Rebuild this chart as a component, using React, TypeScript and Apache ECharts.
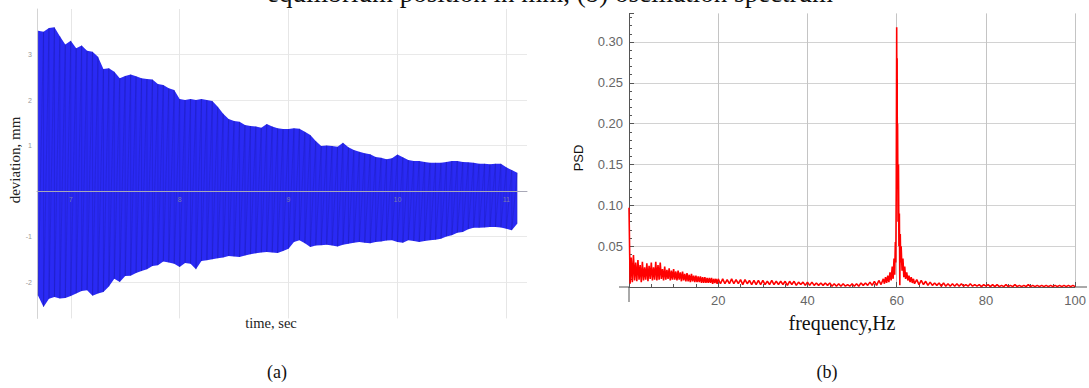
import React, { useEffect, useRef } from 'react';
import * as echarts from 'echarts';

// ---- (a) oscillation: envelope ----
const timeSec = [
  6.70, 6.75, 6.80, 6.85, 6.90, 6.95, 7.00, 7.05, 7.10, 7.15,
  7.20, 7.25, 7.30, 7.35, 7.40, 7.45, 7.50, 7.55, 7.60, 7.65,
  7.70, 7.75, 7.80, 7.85, 7.90, 7.95, 8.00, 8.05, 8.10, 8.15,
  8.20, 8.25, 8.30, 8.35, 8.40, 8.45, 8.50, 8.55, 8.60, 8.65,
  8.70, 8.75, 8.80, 8.85, 8.90, 8.95, 9.00, 9.05, 9.10, 9.15,
  9.20, 9.25, 9.30, 9.35, 9.40, 9.45, 9.50, 9.55, 9.60, 9.65,
  9.70, 9.75, 9.80, 9.85, 9.90, 9.95, 10.00, 10.05, 10.10, 10.15,
  10.20, 10.25, 10.30, 10.35, 10.40, 10.45, 10.50, 10.55, 10.60, 10.65,
  10.70, 10.75, 10.80, 10.85, 10.90, 10.95, 11.00, 11.05, 11.10,
];
const upperMm = [
  3.52, 3.50, 3.58, 3.60, 3.40, 3.22, 3.30, 3.14, 3.20, 3.08,
  3.06, 2.95, 2.68, 2.70, 2.62, 2.48, 2.53, 2.56, 2.52, 2.48,
  2.46, 2.45, 2.35, 2.33, 2.26, 2.22, 2.02, 2.00, 2.02, 2.00,
  2.02, 2.00, 1.98, 1.85, 1.70, 1.58, 1.54, 1.52, 1.45, 1.43,
  1.42, 1.39, 1.47, 1.42, 1.38, 1.36, 1.36, 1.38, 1.37, 1.30,
  1.23, 1.10, 0.99, 1.00, 0.99, 0.97, 1.06, 0.96, 0.90, 0.86,
  0.83, 0.81, 0.75, 0.73, 0.70, 0.72, 0.80, 0.74, 0.68, 0.66,
  0.66, 0.64, 0.62, 0.62, 0.62, 0.64, 0.66, 0.66, 0.64, 0.63,
  0.62, 0.60, 0.60, 0.59, 0.60, 0.60, 0.52, 0.46, 0.40,
];
const lowerMm = [
  -2.30, -2.55, -2.37, -2.33, -2.36, -2.35, -2.31, -2.25, -2.20, -2.18,
  -2.30, -2.25, -2.22, -2.10, -1.93, -2.00, -1.87, -1.86, -1.80, -1.76,
  -1.72, -1.65, -1.63, -1.55, -1.57, -1.60, -1.67, -1.58, -1.60, -1.72,
  -1.54, -1.52, -1.50, -1.48, -1.46, -1.43, -1.44, -1.45, -1.42, -1.39,
  -1.37, -1.35, -1.34, -1.35, -1.36, -1.32, -1.27, -1.12, -1.08, -1.15,
  -1.23, -1.20, -1.19, -1.18, -1.20, -1.22, -1.18, -1.16, -1.14, -1.12,
  -1.14, -1.15, -1.12, -1.11, -1.09, -1.08, -1.12, -1.14, -1.08, -1.10,
  -1.12, -1.10, -1.08, -1.07, -1.05, -1.00, -0.97, -0.92, -0.90, -0.84,
  -0.81, -0.81, -0.80, -0.79, -0.79, -0.80, -0.83, -0.86, -0.72,
];

// ---- (b) spectrum ----
const psdFreq = [
  0, 0.25, 0.5, 0.75, 1, 1.25, 1.5, 1.75, 2, 2.25,
  2.5, 2.75, 3, 3.25, 3.5, 3.75, 4, 4.25, 4.5, 4.75,
  5, 5.25, 5.5, 5.75, 6, 6.25, 6.5, 6.75, 7, 7.25,
  7.5, 7.75, 8, 8.25, 8.5, 8.75, 9, 9.25, 9.5, 9.75,
  10, 10.25, 10.5, 10.75, 11, 11.25, 11.5, 11.75, 12, 12.25,
  12.5, 12.75, 13, 13.25, 13.5, 13.75, 14, 14.25, 14.5, 14.75,
  15, 15.25, 15.5, 15.75, 16, 16.25, 16.5, 16.75, 17, 17.25,
  17.5, 17.75, 18, 18.25, 18.5, 18.75, 19, 19.25, 19.5, 19.75,
  20, 20.5, 21, 21.5, 22, 22.5, 23, 23.5, 24, 24.5,
  25, 25.5, 26, 26.5, 27, 27.5, 28, 28.5, 29, 29.5,
  30, 30.5, 31, 31.5, 32, 32.5, 33, 33.5, 34, 34.5,
  35, 35.5, 36, 36.5, 37, 37.5, 38, 38.5, 39, 39.5,
  40, 40.5, 41, 41.5, 42, 42.5, 43, 43.5, 44, 44.5,
  45, 45.5, 46, 46.5, 47, 47.5, 48, 48.5, 49, 49.5,
  50, 50.5, 51, 51.5, 52, 52.5, 53, 53.5, 54, 54.5,
  55, 55.5, 56, 56.5, 57, 57.25, 57.5, 57.75, 58, 58.25,
  58.5, 58.75, 59, 59.2, 59.4, 59.55, 59.7, 59.8, 59.9, 60,
  60.05, 60.1, 60.15, 60.2, 60.3, 60.4, 60.5, 60.6, 60.7, 60.8,
  60.9, 61, 61.2, 61.4, 61.6, 61.8, 62, 62.25, 62.5, 62.75,
  63, 63.25, 63.5, 63.75, 64, 64.5, 65, 65.5, 66, 66.5,
  67, 67.5, 68, 68.5, 69, 69.5, 70, 70.5, 71, 71.5,
  72, 72.5, 73, 73.5, 74, 74.5, 75, 75.5, 76, 76.5,
  77, 77.5, 78, 78.5, 79, 79.5, 80, 80.5, 81, 81.5,
  82, 82.5, 83, 83.5, 84, 84.5, 85, 85.5, 86, 86.5,
  87, 87.5, 88, 88.5, 89, 89.5, 90, 90.5, 91, 91.5,
  92, 92.5, 93, 93.5, 94, 94.5, 95, 95.5, 96, 96.5,
  97, 97.5, 98, 98.5, 99, 99.5, 100,
];
const psdValue = [
  0.097, 0.004, 0.036, 0.006, 0.039, 0.008, 0.030, 0.007, 0.033, 0.009,
  0.027, 0.006, 0.031, 0.008, 0.024, 0.009, 0.029, 0.007, 0.026, 0.010,
  0.030, 0.008, 0.024, 0.009, 0.031, 0.008, 0.027, 0.009, 0.030, 0.010,
  0.022, 0.008, 0.025, 0.009, 0.021, 0.010, 0.023, 0.008, 0.020, 0.009,
  0.022, 0.009, 0.019, 0.008, 0.020, 0.009, 0.018, 0.007, 0.019, 0.008,
  0.016, 0.007, 0.017, 0.007, 0.015, 0.006, 0.016, 0.007, 0.014, 0.006,
  0.014, 0.006, 0.013, 0.006, 0.013, 0.005, 0.012, 0.005, 0.012, 0.005,
  0.011, 0.005, 0.011, 0.005, 0.011, 0.004, 0.010, 0.005, 0.010, 0.004,
  0.010, 0.004, 0.010, 0.004, 0.009, 0.004, 0.010, 0.004, 0.009, 0.004,
  0.009, 0.003, 0.009, 0.004, 0.008, 0.003, 0.008, 0.003, 0.008, 0.003,
  0.008, 0.003, 0.007, 0.003, 0.008, 0.003, 0.007, 0.003, 0.007, 0.003,
  0.007, 0.002, 0.007, 0.003, 0.007, 0.002, 0.006, 0.003, 0.006, 0.002,
  0.006, 0.002, 0.006, 0.002, 0.005, 0.002, 0.005, 0.002, 0.005, 0.002,
  0.005, 0.001, 0.004, 0.001, 0.004, 0.001, 0.004, 0.001, 0.003, 0.001,
  0.004, 0.001, 0.004, 0.001, 0.005, 0.002, 0.005, 0.002, 0.006, 0.002,
  0.007, 0.002, 0.008, 0.003, 0.010, 0.004, 0.012, 0.005, 0.014, 0.006,
  0.018, 0.008, 0.025, 0.010, 0.035, 0.015, 0.055, 0.030, 0.120, 0.318,
  0.160, 0.280, 0.120, 0.200, 0.080, 0.150, 0.050, 0.090, 0.002, 0.065,
  0.030, 0.050, 0.020, 0.035, 0.012, 0.025, 0.010, 0.018, 0.008, 0.014,
  0.006, 0.012, 0.005, 0.010, 0.004, 0.009, 0.003, 0.008, 0.003, 0.007,
  0.002, 0.006, 0.002, 0.005, 0.002, 0.005, 0.001, 0.005, 0.001, 0.004,
  0.001, 0.004, 0.001, 0.004, 0.001, 0.004, 0.001, 0.003, 0.001, 0.004,
  0.001, 0.003, 0.001, 0.003, 0.0005, 0.003, 0.001, 0.003, 0.0005, 0.003,
  0.0005, 0.003, 0.0005, 0.002, 0.0005, 0.003, 0.0005, 0.002, 0.0005, 0.003,
  0.0005, 0.002, 0.0005, 0.002, 0.0005, 0.003, 0.0005, 0.002, 0.0005, 0.002,
  0.0005, 0.002, 0.0005, 0.002, 0.0005, 0.002, 0.0005, 0.002, 0.0005, 0.002,
  0.0005, 0.002, 0.0005, 0.002, 0.0005, 0.002, 0.0005,
];

const captionText = 'equilibrium position in mm, (b) oscillation spectrum';
const leftYTitle = 'deviation, mm';
const leftXTitle = 'time, sec';
const rightYTitle = 'PSD';
const rightXTitle = 'frequency,Hz';
const panelA = '(a)';
const panelB = '(b)';

const SERIF = '"Liberation Serif", "DejaVu Serif", serif';
const SANS = '"Liberation Sans", Arial, sans-serif';

// left panel axis extent (time, mm)
const leftXMin = 6.69;
const leftXMax = 11.19;
const leftYMin = -2.8;
const leftYMax = 4.0;
const leftGrid = { left: 37, top: 9, width: 490, height: 309.4 };
// shift of the bottom time axis up to the zero line
const zeroShift = -(leftGrid.height * (0 - leftYMin)) / (leftYMax - leftYMin);

function textEl(text: string, x: number, y: number, size: number, family: string, rotation = 0, color = '#111') {
  return {
    type: 'text',
    x,
    y,
    rotation,
    silent: true,
    style: {
      text,
      fontSize: size,
      fontFamily: family,
      fill: color,
      textAlign: 'center',
      textVerticalAlign: 'middle',
      align: 'center',
      verticalAlign: 'middle',
    },
  };
}

export default function App() {
  const ref = useRef<HTMLDivElement>(null);

  useEffect(() => {
    document.body.style.margin = '0';
    if (!ref.current) return;
    const chart = echarts.init(ref.current, undefined, { renderer: 'svg' });

    const zig: number[][] = [];
    const n = Math.min(timeSec.length, upperMm.length, lowerMm.length);
    for (let i = 0; i < n; i++) {
      zig.push([timeSec[i], upperMm[i]]);
      zig.push([timeSec[i], lowerMm[i]]);
    }
    const m = Math.min(psdFreq.length, psdValue.length);
    const psd: number[][] = [];
    for (let i = 0; i < m; i++) psd.push([psdFreq[i], psdValue[i]]);

    const intLabel = (v: number) => (Math.abs(v - Math.round(v)) < 1e-9 && Math.round(v) !== 0 ? String(Math.round(v)) : '');

    chart.setOption({
      animation: false,
      grid: [
        leftGrid,
        { left: 629, top: 13.4, width: 447, height: 273.6 },
      ],
      xAxis: [
        {
          type: 'value', gridIndex: 0, min: leftXMin, max: leftXMax, minInterval: 1, maxInterval: 1, position: 'top',
          axisLine: { show: false, onZero: false }, axisTick: { show: false }, axisLabel: { show: false },
          splitLine: { show: true, showMinLine: false, showMaxLine: false, lineStyle: { color: '#e6e6e6', width: 1 } },
        },
        {
          type: 'value', gridIndex: 1, min: 0, max: 100, interval: 20,
          axisLine: { show: true, onZero: false, lineStyle: { color: '#555', width: 1 } },
          axisTick: { show: true, inside: true, length: 5, lineStyle: { color: '#555' } },
          minorTick: { show: true, splitNumber: 4, length: 3, lineStyle: { color: '#555' } },
          axisLabel: {
            fontSize: 13, color: '#666', fontFamily: SANS, margin: 7,
            formatter: (v: number) => (v === 0 ? '' : String(v)),
          },
          splitLine: { show: true, showMinLine: false, lineStyle: { color: '#c4c4c4', width: 1 } },
        },
        {
          type: 'value', gridIndex: 0, min: leftXMin, max: leftXMax, minInterval: 1, maxInterval: 1, z: 5,
          position: 'bottom', offset: zeroShift,
          axisLine: { show: true, onZero: false, lineStyle: { color: '#a8a8b8', width: 1 } },
          axisTick: { show: false },
          axisLabel: { fontSize: 7, color: '#7a7ab0', margin: 5, formatter: intLabel, showMinLabel: false, showMaxLabel: false },
          splitLine: { show: false },
        },
      ],
      yAxis: [
        {
          type: 'value', gridIndex: 0, min: leftYMin, max: leftYMax, minInterval: 1, maxInterval: 1,
          axisLine: { show: true, onZero: false, lineStyle: { color: '#d4d4d4', width: 1 } },
          axisTick: { show: false },
          axisLabel: { fontSize: 7, color: '#999', margin: 5, formatter: intLabel, showMinLabel: false, showMaxLabel: false },
          splitLine: { show: true, showMinLine: false, showMaxLine: false, lineStyle: { color: '#e9e9e9', width: 1 } },
        },
        {
          type: 'value', gridIndex: 1, min: 0, max: 0.335, interval: 0.05,
          axisLine: { show: true, onZero: false, lineStyle: { color: '#555', width: 1 } },
          axisTick: { show: true, inside: true, length: 5, lineStyle: { color: '#555' } },
          minorTick: { show: true, splitNumber: 5, length: 3, lineStyle: { color: '#555' } },
          axisLabel: {
            fontSize: 13, color: '#666', fontFamily: SANS, margin: 6, showMaxLabel: false,
            formatter: (v: number) => (v === 0 || v > 0.33 ? '' : v.toFixed(2)),
          },
          splitLine: { show: true, showMinLine: false, showMaxLine: false, lineStyle: { color: '#d2d2d2', width: 1 } },
        },
      ],
      series: [
        {
          type: 'custom',
          xAxisIndex: 0,
          yAxisIndex: 0,
          data: [[timeSec[0], upperMm[0]]],
          encode: { x: 0, y: 1 },
          silent: true,
          renderItem: (params: any, api: any) => {
            if (params.dataIndex !== 0) return null;
            const pts: number[][] = [];
            for (let i = 0; i < n; i++) pts.push(api.coord([timeSec[i], upperMm[i]]));
            for (let i = n - 1; i >= 0; i--) pts.push(api.coord([timeSec[i], lowerMm[i]]));
            return { type: 'polygon', shape: { points: pts }, style: { fill: 'rgb(42,42,244)' } };
          },
        },
        {
          type: 'line',
          xAxisIndex: 0,
          yAxisIndex: 0,
          data: zig,
          showSymbol: false,
          silent: true,
          lineStyle: { color: 'rgba(20,20,130,0.35)', width: 0.6 },
        },
        {
          type: 'line',
          xAxisIndex: 1,
          yAxisIndex: 1,
          data: psd,
          showSymbol: false,
          silent: true,
          lineStyle: { color: '#ff0000', width: 1.6 },
        },
      ],
      graphic: [
        textEl(captionText, 550, -7.5, 27, SERIF),
        textEl(leftYTitle, 15, 160, 15, SERIF, Math.PI / 2, '#222'),
        textEl(leftXTitle, 271, 323, 14.5, SERIF, 0, '#222'),
        textEl(rightYTitle, 578, 158, 13, SANS, Math.PI / 2, '#111'),
        textEl(rightXTitle, 842, 323, 20, SERIF, 0, '#111'),
        textEl(panelA, 277, 372, 18, SERIF),
        textEl(panelB, 827, 372, 18, SERIF),
        { type: 'line', silent: true, shape: { x1: 619, y1: 287, x2: 629, y2: 287 }, style: { stroke: '#555', lineWidth: 1 } },
        { type: 'line', silent: true, shape: { x1: 1076, y1: 287, x2: 1087, y2: 287 }, style: { stroke: '#555', lineWidth: 1 } },
        { type: 'line', silent: true, shape: { x1: 629, y1: 287, x2: 629, y2: 302 }, style: { stroke: '#555', lineWidth: 1 } },
      ],
    });

    return () => chart.dispose();
  }, []);

  return <div ref={ref} style={{ width: 1089, height: 388 }} />;
}
